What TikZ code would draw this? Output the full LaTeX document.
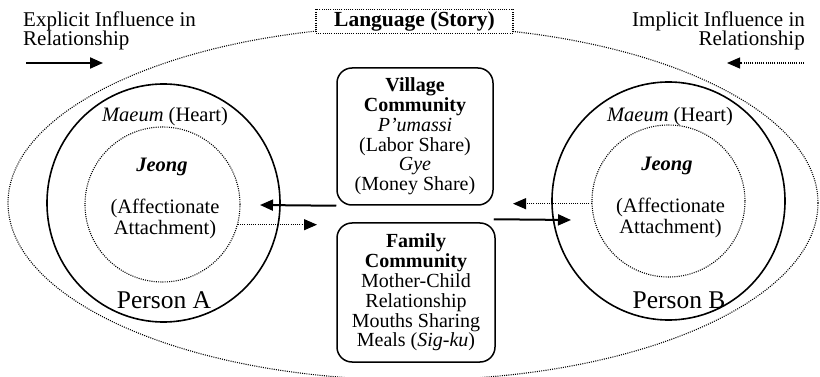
\documentclass[tikz,border=0pt]{standalone}
\usepackage{fontspec}
\setmainfont{Liberation Serif}
\usetikzlibrary{arrows.meta,shapes.geometric,calc}
\newcommand\mytightlines{\lineskiplimit=-100pt\relax\lineskip=0pt\relax}
\begin{document}
\begin{tikzpicture}[x=1pt,y=-1pt,
  dots/.style={line width=1.1pt, dash pattern=on 1pt off 1.2pt},
  solidline/.style={line width=1.6pt},
  ring/.style={ellipse, draw, inner sep=0pt},
  commbox/.style={draw, line width=1.5pt, rounded corners=15pt, align=center, inner sep=0pt, font=\fontsize{20}{19.8}\selectfont},
  lbl/.style={inner sep=0pt, font=\fontsize{20.5}{20.5}\selectfont},
  captext/.style={inner sep=0pt, font=\fontsize{21}{19}\selectfont\mytightlines},
  tip/.style={-{Triangle[length=13pt,width=11pt]}},
]
\useasboundingbox (0,0) rectangle (820,377);
\fill[white] (0,0) rectangle (820,377);

% outer story ellipse and language box
\node[ring, dots, minimum width=810pt, minimum height=354pt] (story) at (413,203) {};
\node[draw, dots, fill=white, minimum width=197pt, minimum height=24pt, inner sep=0pt,
      font=\fontsize{21.5}{21.5}\selectfont\bfseries] (lang) at (414.5,21.5) {Language (Story)};

% side captions
\node[captext, anchor=north west, align=left] (explicit) at (23,11.5) {Explicit Influence in\\Relationship};
\node[captext, anchor=north east, align=right] (implicit) at (805,11.5) {Implicit Influence in\\Relationship};
\coordinate (exS) at (26,63);
\coordinate (exE) at (103,63);
\coordinate (imS) at (804,63);
\coordinate (imE) at (727,63);
\draw[line width=2pt, tip] (exS) -- (exE);
\draw[dots, tip] (imS) -- (imE);

% person A
\node[ring, solidline, minimum width=233pt, minimum height=238pt] (personA) at (163.5,203) {};
\node[ring, dots, minimum width=155pt, minimum height=155pt] (jeongA) at (162.5,204.5) {};
\node[lbl] (heartA) at (165,117) {\textit{Maeum} (Heart)};
\node[lbl, font=\fontsize{20.5}{20.5}\selectfont\bfseries\itshape] (jA) at (162,167) {Jeong};
\node[lbl, align=center, font=\fontsize{20.5}{21}\selectfont] (attA) at (165,219) {(Affectionate\\Attachment)};
\node[lbl, font=\fontsize{25.5}{25.5}\selectfont] (nameA) at (164,300) {Person A};

% person B
\node[ring, solidline, minimum width=233pt, minimum height=238pt] (personB) at (668.5,201) {};
\node[ring, dots, minimum width=153pt, minimum height=152pt] (jeongB) at (668.5,201) {};
\node[lbl] (heartB) at (670,117) {\textit{Maeum} (Heart)};
\node[lbl, font=\fontsize{20.5}{20.5}\selectfont\bfseries\itshape] (jB) at (667,166) {Jeong};
\node[lbl, align=center, font=\fontsize{20.5}{21}\selectfont] (attB) at (670.5,218) {(Affectionate\\Attachment)};
\node[lbl, font=\fontsize{25.5}{25.5}\selectfont] (nameB) at (679,300) {Person B};

% community boxes
\node[commbox, minimum width=156pt, minimum height=137pt] (village) at (415,136.5)
  {\textbf{Village}\\\textbf{Community}\\\textit{P'umassi}\\(Labor Share)\\\textit{Gye}\\(Money Share)};
\node[commbox, minimum width=158pt, minimum height=139pt] (family) at (416,292.5)
  {\textbf{Family}\\\textbf{Community}\\Mother-Child\\Relationship\\Mouths Sharing\\Meals (\textit{Sig-ku})};

% influence arrows
\coordinate (tipVA) at (260,205);
\coordinate (tipAF) at (317,224.5);
\coordinate (tipBV) at (513,203.5);
\coordinate (tipFB) at (571,220);
\draw[line width=2pt, tip] (village.south west) -- (tipVA);
\draw[dots, tip] (jeongA.-15) -- (jeongA.-15 -| tipAF);
\draw[dots, tip] (jeongB.182) -- (jeongB.182 -| tipBV);
\draw[line width=2pt, tip] ($(family.north east)+(-2,-3)$) -- (tipFB);
\end{tikzpicture}
\end{document}
